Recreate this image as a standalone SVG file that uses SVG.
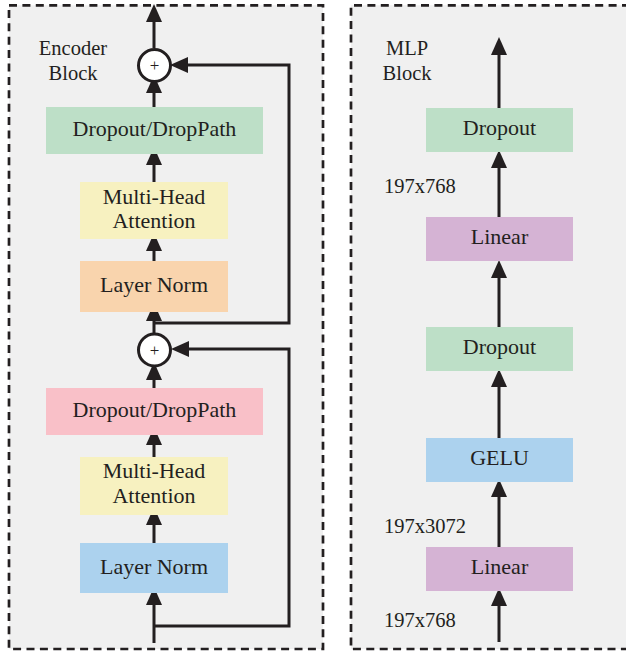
<svg xmlns="http://www.w3.org/2000/svg" width="626" height="652" viewBox="0 0 626 652">
<style>
  .panel{fill:#f0f0f0;stroke:none}
  .dash{fill:none;stroke:#231f20;stroke-width:2.7;stroke-dasharray:8 5.4}
  .t{font-family:"Liberation Serif","Times New Roman",serif;fill:#231f20;font-size:22px;text-anchor:middle}
  .lbl{font-family:"Liberation Serif","Times New Roman",serif;fill:#231f20;font-size:20.5px}
  .c{fill:none;stroke:#231f20;stroke-width:3;stroke-linejoin:miter}
  .add{fill:#ffffff;stroke:#231f20;stroke-width:3}
  .plus{font-family:"Liberation Serif","Times New Roman",serif;fill:#231f20;font-size:17px;text-anchor:middle}
</style>
<defs>
  <marker id="ah" markerUnits="userSpaceOnUse" markerWidth="18" markerHeight="16" refX="6" refY="8" orient="auto">
    <path d="M0,0 L18,8 L0,16 z" fill="#231f20"/>
  </marker>
</defs>
<rect width="626" height="652" fill="#ffffff"/>
<!-- panels -->
<rect class="panel" x="9" y="5.3" width="314" height="643.7"/>
<rect class="dash" x="9" y="5.3" width="314" height="643.7"/>
<rect class="panel" x="351" y="5.3" width="280" height="643.7"/>
<path class="dash" d="M630,5.3 H351 V649 H630"/>

<g id="labels">
  <text class="lbl" x="73" y="55" text-anchor="middle">Encoder</text>
  <text class="lbl" x="73" y="80" text-anchor="middle">Block</text>
  <text class="lbl" x="407" y="55" text-anchor="middle">MLP</text>
  <text class="lbl" x="407" y="80" text-anchor="middle">Block</text>
  <text class="lbl" x="384" y="193">197x768</text>
  <text class="lbl" x="384" y="533">197x3072</text>
  <text class="lbl" x="384" y="627">197x768</text>
</g>

<g id="connectors">
  <!-- encoder -->
  <line class="c" x1="154" y1="48" x2="154" y2="16" marker-end="url(#ah)"/>
  <line class="c" x1="154" y1="107" x2="154" y2="87" marker-end="url(#ah)"/>
  <line class="c" x1="154" y1="182" x2="154" y2="159" marker-end="url(#ah)"/>
  <line class="c" x1="154" y1="261" x2="154" y2="245" marker-end="url(#ah)"/>
  <line class="c" x1="154" y1="333" x2="154" y2="315" marker-end="url(#ah)"/>
  <path class="c" d="M154,323 H289 V65 H182" marker-end="url(#ah)"/>
  <line class="c" x1="154" y1="388" x2="154" y2="374" marker-end="url(#ah)"/>
  <line class="c" x1="154" y1="457" x2="154" y2="439" marker-end="url(#ah)"/>
  <line class="c" x1="154" y1="543" x2="154" y2="519" marker-end="url(#ah)"/>
  <line class="c" x1="154" y1="643" x2="154" y2="599" marker-end="url(#ah)"/>
  <path class="c" d="M154,626 H289 V349 H183" marker-end="url(#ah)"/>
  <!-- mlp -->
  <line class="c" x1="499" y1="108" x2="499" y2="49" marker-end="url(#ah)"/>
  <line class="c" x1="499" y1="217" x2="499" y2="162" marker-end="url(#ah)"/>
  <line class="c" x1="499" y1="327" x2="499" y2="272" marker-end="url(#ah)"/>
  <line class="c" x1="499" y1="438" x2="499" y2="381" marker-end="url(#ah)"/>
  <line class="c" x1="499" y1="547" x2="499" y2="491" marker-end="url(#ah)"/>
  <line class="c" x1="499" y1="642" x2="499" y2="600" marker-end="url(#ah)"/>
</g>

<!-- encoder nodes -->
<g id="enc-add1">
  <circle class="add" cx="154.5" cy="65.5" r="16"/>
  <text class="plus" x="154.5" y="71">+</text>
</g>
<g id="enc-drop1">
  <rect x="46" y="107" width="217" height="47" fill="#bddfc7"/>
  <text class="t" x="154.5" y="136">Dropout/DropPath</text>
</g>
<g id="enc-mha1">
  <rect x="80" y="182" width="148" height="57" fill="#f7f1c0"/>
  <text class="t" x="154" y="204">Multi-Head</text>
  <text class="t" x="154" y="228">Attention</text>
</g>
<g id="enc-ln1">
  <rect x="80" y="261" width="148" height="51" fill="#f9d4ad"/>
  <text class="t" x="154" y="292">Layer Norm</text>
</g>
<g id="enc-add2">
  <circle class="add" cx="154.5" cy="350" r="16"/>
  <text class="plus" x="154.5" y="355.5">+</text>
</g>
<g id="enc-drop2">
  <rect x="46" y="388" width="217" height="47" fill="#f9c0c8"/>
  <text class="t" x="154.5" y="417">Dropout/DropPath</text>
</g>
<g id="enc-mha2">
  <rect x="80" y="457" width="148" height="58" fill="#f7f1c0"/>
  <text class="t" x="154" y="478">Multi-Head</text>
  <text class="t" x="154" y="503">Attention</text>
</g>
<g id="enc-ln2">
  <rect x="80" y="543" width="148" height="50" fill="#acd2ee"/>
  <text class="t" x="154" y="574">Layer Norm</text>
</g>

<!-- mlp nodes -->
<g id="mlp-drop1">
  <rect x="426" y="108" width="147" height="44" fill="#bddfc7"/>
  <text class="t" x="499.5" y="135">Dropout</text>
</g>
<g id="mlp-lin1">
  <rect x="426" y="217" width="147" height="44" fill="#d5b3d4"/>
  <text class="t" x="499.5" y="244">Linear</text>
</g>
<g id="mlp-drop2">
  <rect x="426" y="327" width="147" height="44" fill="#bddfc7"/>
  <text class="t" x="499.5" y="354">Dropout</text>
</g>
<g id="mlp-gelu">
  <rect x="426" y="438" width="147" height="44" fill="#acd2ee"/>
  <text class="t" x="499.5" y="465">GELU</text>
</g>
<g id="mlp-lin2">
  <rect x="426" y="547" width="147" height="44" fill="#d5b3d4"/>
  <text class="t" x="499.5" y="574">Linear</text>
</g>
</svg>
